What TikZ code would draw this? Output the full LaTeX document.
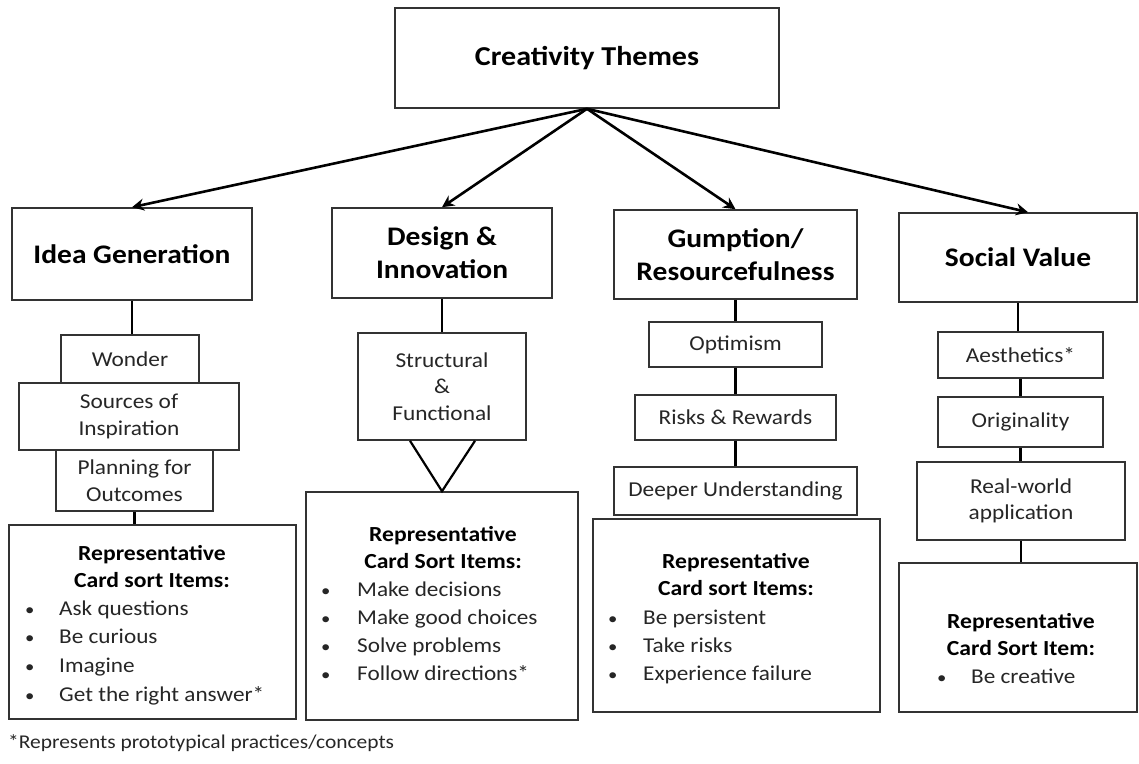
\documentclass[tikz,border=0pt]{standalone}
\usepackage{fontspec}
\setmainfont[FakeStretch=1.1]{Carlito}
\usetikzlibrary{arrows.meta,calc}
\newcommand{\blt}[1]{\makebox[#1][l]{\fontsize{17}{17}\selectfont •}}
\begin{document}
\begin{tikzpicture}[x=1pt,y=-1pt,
  box/.style={draw=black!80,line width=1.6pt,rectangle,inner sep=0pt,align=center,fill=white},
  theme/.style={box,font=\fontsize{26.8}{33}\selectfont\bfseries},
  sub/.style={box,text=black!85,font=\fontsize{21.2}{26.5}\selectfont},
  head/.style={font=\fontsize{21.5}{27}\selectfont\bfseries,anchor=mid,inner sep=0pt,align=center},
  item/.style={text=black!85,font=\fontsize{21.1}{27}\selectfont,anchor=mid west,inner sep=0pt},
  link/.style={line width=2.6pt,black},
  arr/.style={link,-{Stealth[length=12pt,width=12pt]}}]
\useasboundingbox (0,0) rectangle (1139,763);

% root
\node[theme,font=\fontsize{27.3}{33}\selectfont\bfseries,minimum width=384pt,minimum height=100pt] (top) at (587,58) {\raisebox{-5pt}{Creativity Themes}};

% four themes
\node[theme,minimum width=240pt,minimum height=92pt] (ig) at (132,254) {\raisebox{-3pt}{Idea Generation}};
\node[theme,minimum width=220pt,minimum height=90pt] (di) at (442,253) {Design \&\\Innovation};
\node[theme,minimum width=243pt,minimum height=89pt] (gr) at (735.5,254.5) {Gumption/\\Resourcefulness};
\node[theme,minimum width=238pt,minimum height=89pt] (sv) at (1018,257.5) {\raisebox{-3pt}{Social Value}};

\draw[arr] (top.south) -- (ig.north);
\draw[arr] (top.south) -- (di.north);
\draw[arr] (top.south) -- (gr.north);
\draw[arr] (top.south) -- ($(sv.north)+(10,0)$);

% Idea Generation column
\node[sub,minimum width=138pt,minimum height=48pt] (wonder) at (130,359) {Wonder};
\node[sub,minimum width=220pt,minimum height=67pt] (src) at (129,416.5) {Sources of\\Inspiration};
\node[sub,minimum width=157pt,minimum height=61pt] (plan) at (134.5,480.5) {Planning for\\Outcomes};
\node[box,minimum width=287pt,minimum height=194pt] (card1) at (152.5,622) {};
\draw[link] (ig.south) -- (ig.south |- wonder.north);
\draw[link] (plan.south) -- (plan.south |- card1.north);
\node[head] (h1) at (152,585) {Representative\\Card sort Items:};
\foreach \t [count=\i from 0] in {Ask questions,Be curious,Imagine,Get the right answer*}
  \node[item] (ia\i) at (25,613+28.6*\i) {\blt{34pt}\t};

% Design & Innovation column
\node[sub,minimum width=168pt,minimum height=107pt] (sf) at (442,386.5) {Structural\\\&\\Functional};
\node[box,minimum width=272pt,minimum height=228pt] (card2) at (442,606) {};
\draw[link] (di.south) -- (di.south |- sf.north);
\draw[link,line width=2.2pt] ($(sf.south)+(-32,0)$) -- (card2.north) -- ($(sf.south)+(33,0)$);
\node[head] (h2) at (443,566) {Representative\\Card Sort Items:};
\foreach \t [count=\i from 0] in {Make decisions,Make good choices,Solve problems,Follow directions*}
  \node[item] (ib\i) at (321,594+28*\i) {\blt{36pt}\t};

% Gumption / Resourcefulness column
\node[sub,minimum width=173pt,minimum height=45pt] (opt) at (735.5,344.5) {Optimism};
\node[sub,minimum width=201pt,minimum height=45pt] (rr) at (735.5,417.5) {Risks \& Rewards};
\node[sub,minimum width=243pt,minimum height=48pt] (du) at (735.5,491) {Deeper Understanding};
\node[box,minimum width=287pt,minimum height=193pt] (card3) at (736.5,615.5) {};
\draw[link] (gr.south) -- (gr.south |- opt.north);
\draw[link] (opt.south) -- (rr.north);
\draw[link] (rr.south) -- (du.north);
\node[head] (h3) at (736,593) {Representative\\Card sort Items:};
\foreach \t [count=\i from 0] in {Be persistent,Take risks,Experience failure}
  \node[item] (ic\i) at (608,622+28*\i) {\blt{35pt}\t};

% Social Value column
\node[sub,minimum width=165pt,minimum height=46pt] (aes) at (1020.5,355) {Aesthetics*};
\node[sub,minimum width=165pt,minimum height=50pt] (ori) at (1020.5,422) {Originality};
\node[sub,minimum width=208pt,minimum height=78pt] (rw) at (1021,501) {Real-world\\application};
\node[box,minimum width=238pt,minimum height=149pt] (card4) at (1018,637.5) {};
\draw[link] (sv.south) -- (sv.south |- aes.north);
\draw[link] (aes.south) -- (ori.north);
\draw[link] (ori.south) -- (ori.south |- rw.north);
\draw[link] (rw.south) -- (rw.south |- card4.north);
\node[head] (h4) at (1021,653) {Representative\\Card Sort Item:};
\node[item] (id0) at (937,681) {\blt{34pt}Be creative};

% footnote
\node[anchor=mid west,inner sep=0pt,text=black!85,font=\fontsize{19.5}{20}\selectfont] (note) at (8,746) {*Represents prototypical practices/concepts};
\end{tikzpicture}
\end{document}
